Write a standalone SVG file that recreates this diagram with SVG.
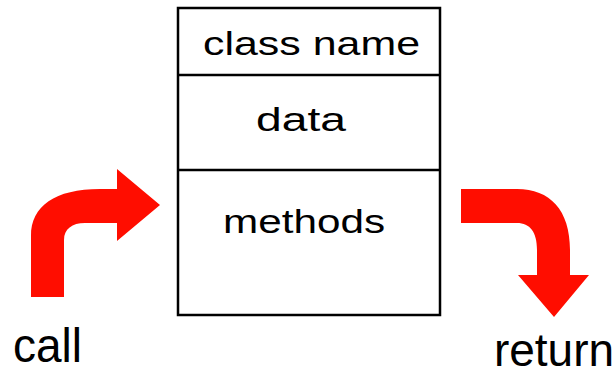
<svg xmlns="http://www.w3.org/2000/svg" width="616" height="368" viewBox="0 0 616 368">
<style>
.box{fill:#fff;stroke:#000;stroke-width:2.5}
.div{stroke:#000;stroke-width:2.5}
.t{font-family:"Liberation Sans",Arial,sans-serif;fill:#000;text-anchor:middle}
.arr{fill:#ff0d00}
</style>
<g id="class">
<rect class="box" x="178" y="8" width="262" height="307"/>
<line class="div" x1="178" y1="75" x2="440" y2="75"/>
<line class="div" x1="178" y1="170" x2="440" y2="170"/>
<text class="t" x="311.5" y="55" font-size="34" textLength="217" lengthAdjust="spacingAndGlyphs">class name</text>
<text class="t" x="301" y="131" font-size="34" textLength="90" lengthAdjust="spacingAndGlyphs">data</text>
<text class="t" x="304" y="233" font-size="34" textLength="162" lengthAdjust="spacingAndGlyphs">methods</text>
</g>
<g id="connectors">
<path class="arr" d="M31,297 L31,236 C31,206 55,189 100,189 L117,189 L117,169 L160,205 L117,241 L117,223 L85,223 C72,223 64,229 64,240 L64,297 Z"/>
<path class="arr" d="M461,189 L517,189 C550,189 570,210 570,250 L570,275 L589,275 L554,317 L518,275 L537,275 L537,250 C537,232 530,223 517,223 L461,223 Z"/>
</g>
<g id="labels">
<text class="t" x="47.5" y="362" font-size="48" textLength="69" lengthAdjust="spacingAndGlyphs">call</text>
<text class="t" x="554" y="366" font-size="46">return</text>
</g>
</svg>
